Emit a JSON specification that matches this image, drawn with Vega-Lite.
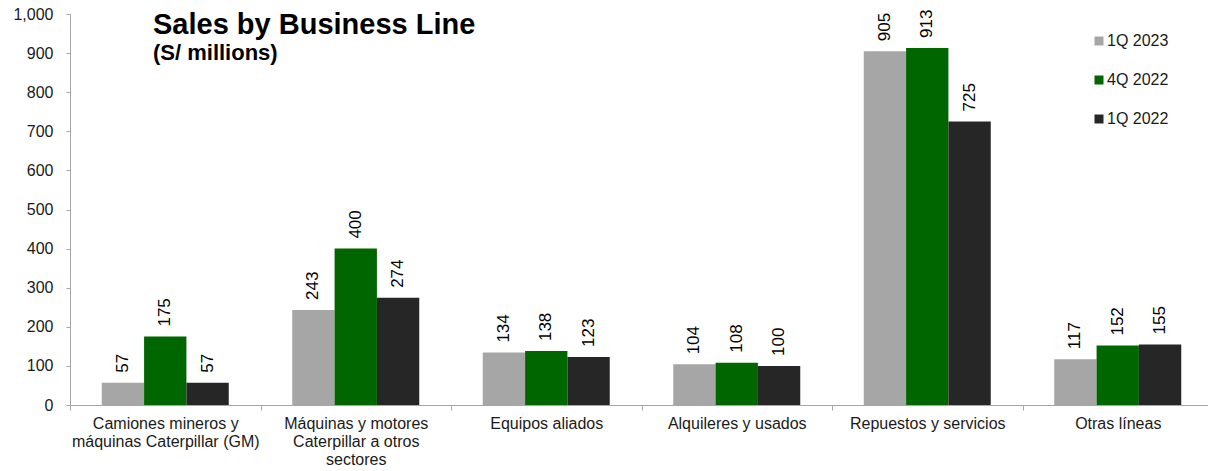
{
  "$schema": "https://vega.github.io/schema/vega-lite/v6.json",
  "width": 1143,
  "height": 391,
  "autosize": {"type": "none"},
  "padding": {"left": 70, "top": 14, "right": 0, "bottom": 66},
  "background": "white",
  "config": {
    "font": "Liberation Sans",
    "view": {"stroke": null},
    "axis": {"grid": false, "labelFontSize": 16, "labelColor": "#1a1a1a", "labelFont": "Liberation Sans"}
  },
  "title": {
    "text": "Sales by Business Line",
    "subtitle": "(S/ millions)",
    "anchor": "start",
    "frame": "group",
    "orient": "top",
    "dx": 83,
    "offset": -58,
    "fontSize": 29,
    "fontWeight": "bold",
    "color": "black",
    "subtitleFontSize": 22,
    "subtitleFontWeight": "bold",
    "subtitleColor": "black",
    "subtitlePadding": 3
  },
  "data": {
    "values": [
      {"line": "Camiones mineros y máquinas Caterpillar (GM)", "period": "1Q 2023", "sales": 57},
      {"line": "Camiones mineros y máquinas Caterpillar (GM)", "period": "4Q 2022", "sales": 175},
      {"line": "Camiones mineros y máquinas Caterpillar (GM)", "period": "1Q 2022", "sales": 57},
      {"line": "Máquinas y motores Caterpillar a otros sectores", "period": "1Q 2023", "sales": 243},
      {"line": "Máquinas y motores Caterpillar a otros sectores", "period": "4Q 2022", "sales": 400},
      {"line": "Máquinas y motores Caterpillar a otros sectores", "period": "1Q 2022", "sales": 274},
      {"line": "Equipos aliados", "period": "1Q 2023", "sales": 134},
      {"line": "Equipos aliados", "period": "4Q 2022", "sales": 138},
      {"line": "Equipos aliados", "period": "1Q 2022", "sales": 123},
      {"line": "Alquileres y usados", "period": "1Q 2023", "sales": 104},
      {"line": "Alquileres y usados", "period": "4Q 2022", "sales": 108},
      {"line": "Alquileres y usados", "period": "1Q 2022", "sales": 100},
      {"line": "Repuestos y servicios", "period": "1Q 2023", "sales": 905},
      {"line": "Repuestos y servicios", "period": "4Q 2022", "sales": 913},
      {"line": "Repuestos y servicios", "period": "1Q 2022", "sales": 725},
      {"line": "Otras líneas", "period": "1Q 2023", "sales": 117},
      {"line": "Otras líneas", "period": "4Q 2022", "sales": 152},
      {"line": "Otras líneas", "period": "1Q 2022", "sales": 155}
    ]
  },
  "encoding": {
    "x": {
      "field": "line",
      "type": "nominal",
      "sort": null,
      "scale": {"paddingInner": 0, "paddingOuter": 0},
      "axis": {
        "title": null,
        "labelAngle": 0,
        "tickBand": "extent",
        "labelFontSize": 16,
        "labelColor": "#1a1a1a",
        "labelPadding": 5,
        "labelLineHeight": 18,
        "labelBaseline": "top",
        "labelOverlap": false,
        "labelBound": false,
        "labelLimit": 400,
        "domainColor": "#a6a6a6",
        "tickColor": "#a6a6a6",
        "tickSize": 5,
        "labelExpr": "datum.value == 'Camiones mineros y máquinas Caterpillar (GM)' ? ['Camiones mineros y', 'máquinas Caterpillar (GM)'] : datum.value == 'Máquinas y motores Caterpillar a otros sectores' ? ['Máquinas y motores', 'Caterpillar a otros', 'sectores'] : datum.value"
      }
    },
    "xOffset": {
      "field": "period",
      "type": "nominal",
      "sort": ["1Q 2023", "4Q 2022", "1Q 2022"],
      "scale": {"paddingInner": 0, "paddingOuter": 0.75}
    },
    "y": {
      "field": "sales",
      "type": "quantitative",
      "scale": {"domain": [0, 1000], "nice": false},
      "axis": {
        "title": null,
        "values": [0, 100, 200, 300, 400, 500, 600, 700, 800, 900, 1000],
        "format": ",d",
        "labelFontSize": 16,
        "labelColor": "#1a1a1a",
        "labelPadding": 13,
        "labelOverlap": false,
        "labelBound": false,
        "labelFlush": false,
        "domainColor": "#a6a6a6",
        "tickColor": "#a6a6a6",
        "tickSize": 4
      }
    }
  },
  "layer": [
    {
      "mark": {"type": "bar"},
      "encoding": {
        "color": {
          "field": "period",
          "type": "nominal",
          "sort": ["1Q 2023", "4Q 2022", "1Q 2022"],
          "scale": {"domain": ["1Q 2023", "4Q 2022", "1Q 2022"], "range": ["#a6a6a6", "#006600", "#262626"]},
          "legend": {
            "title": null,
            "orient": "none",
            "legendX": 1021,
            "legendY": 19,
            "symbolType": "square",
            "symbolSize": 81,
            "symbolStrokeWidth": 0,
            "labelFontSize": 16,
            "labelColor": "#1a1a1a",
            "labelOffset": 0,
            "rowPadding": 23
          }
        }
      }
    },
    {
      "mark": {"type": "text", "angle": 270, "align": "left", "baseline": "middle", "dx": 10, "fontSize": 17, "color": "black"},
      "encoding": {
        "text": {"field": "sales", "type": "quantitative"}
      }
    }
  ]
}
